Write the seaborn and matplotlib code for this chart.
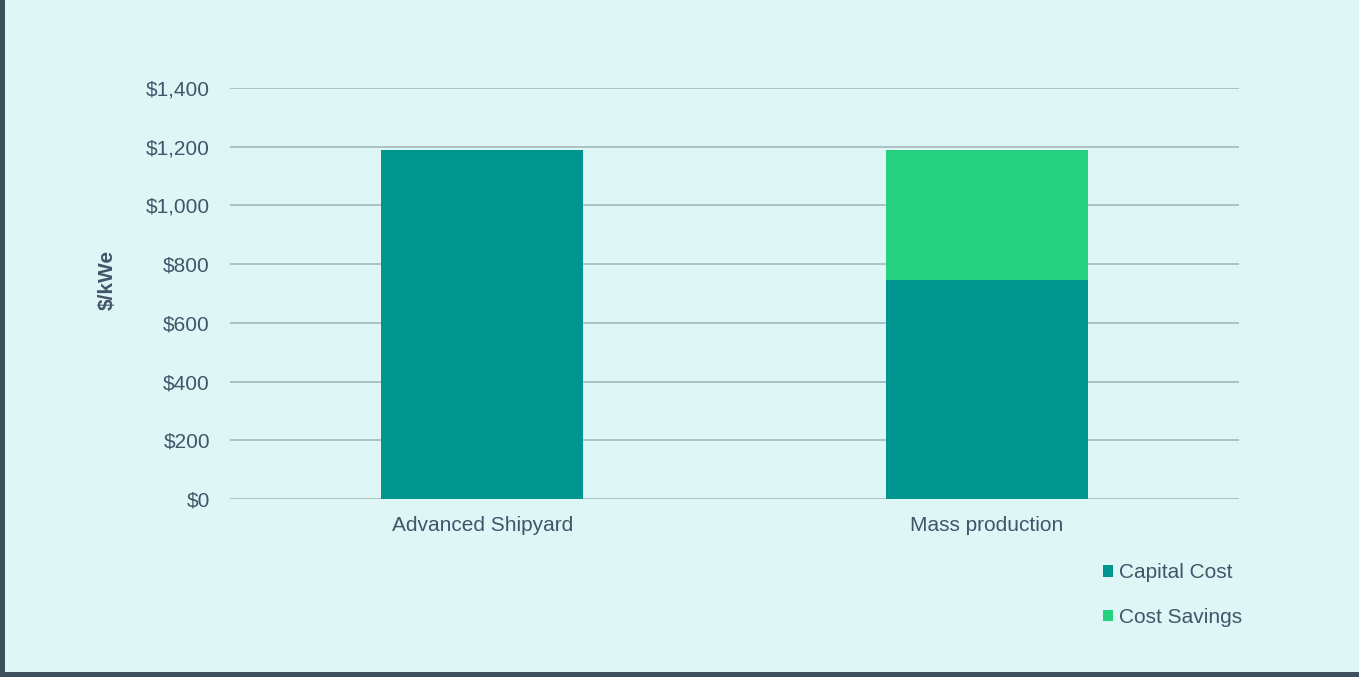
import matplotlib
matplotlib.use("Agg")
import matplotlib.pyplot as plt
from matplotlib.patches import Rectangle, Patch
from matplotlib.ticker import FuncFormatter
import seaborn as sns
import pandas as pd

categories = ["Advanced Shipyard", "Mass production"]
capital_cost = [1190, 745]
cost_savings = [0, 445]
series_names = ["Capital Cost", "Cost Savings"]
y_ticks = [0, 200, 400, 600, 800, 1000, 1200, 1400]

BG = "#DEF6F6"
TEAL = "#009690"
GREEN = "#23D17E"
TEXT = "#44546A"
GRID = "#9EB3B7"
BORDER = "#3E4F5F"

sns.set_theme(style="white")
plt.rcParams["font.family"] = ["Liberation Sans", "DejaVu Sans"]

df = pd.DataFrame({
    "category": categories,
    "capital": capital_cost,
    "total": [c + s for c, s in zip(capital_cost, cost_savings)],
})

fig = plt.figure(figsize=(13.59, 6.77), dpi=100, facecolor=BG)
ax = fig.add_axes([230 / 1359, 1 - 499 / 677, 1009 / 1359, 411 / 677])
ax.set_facecolor(BG)

sns.barplot(data=df, x="category", y="total", color=GREEN, width=0.4,
            saturation=1, linewidth=0, ax=ax, zorder=2)
sns.barplot(data=df, x="category", y="capital", color=TEAL, width=0.4,
            saturation=1, linewidth=0, ax=ax, zorder=3)

ax.set_ylim(0, 1400)
ax.set_xlim(-0.5, 1.5)
ax.set_yticks(y_ticks)
ax.yaxis.set_major_formatter(FuncFormatter(lambda v, p: f"${int(v):,}"))
ax.grid(axis="y", color=GRID, linewidth=1.1, zorder=0)
ax.set_axisbelow(True)
for s in ax.spines.values():
    s.set_visible(False)
ax.tick_params(axis="both", length=0, labelsize=15, labelcolor=TEXT)
ax.tick_params(axis="y", pad=14.4)
ax.tick_params(axis="x", pad=12.5)
ax.set_xlabel("")
ax.set_ylabel("$/kWe", fontsize=15, fontweight="bold", color=TEXT)
ax.yaxis.set_label_coords(-0.112, 0.533)

handles = [Patch(facecolor=TEAL, edgecolor="none"),
           Patch(facecolor=GREEN, edgecolor="none")]
leg = fig.legend(handles, series_names, loc="upper left",
                 bbox_to_anchor=(1103 / 1359, 1 - 563 / 677),
                 frameon=False, fontsize=15, labelcolor=TEXT,
                 handlelength=0.5, handleheight=0.5, handletextpad=0.25,
                 labelspacing=1.24, borderpad=0, borderaxespad=0)

fig.patches.append(Rectangle((0, 0), 5 / 1359, 1, transform=fig.transFigure,
                             facecolor=BORDER, edgecolor="none", zorder=10))
fig.patches.append(Rectangle((0, 0), 1, 5 / 677, transform=fig.transFigure,
                             facecolor=BORDER, edgecolor="none", zorder=10))

fig.savefig("out.png", dpi=100, facecolor=BG)
